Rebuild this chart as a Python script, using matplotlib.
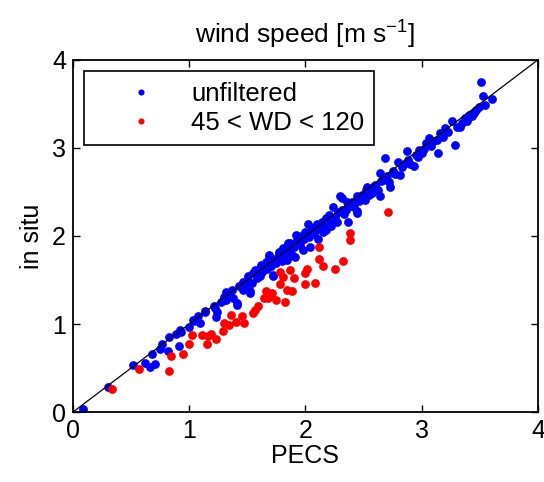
import matplotlib
matplotlib.use("Agg")
import matplotlib.pyplot as plt
import numpy as np

plt.rcParams['font.family'] = ['Liberation Sans', 'DejaVu Sans']
plt.rcParams['mathtext.default'] = 'regular'

# unfiltered points (PECS, in situ)
blue_pts = [
    (0.09, 0.03), (0.30, 0.29), (0.52, 0.54), (0.62, 0.56), (0.66, 0.51), (0.71, 0.55),
    (0.68, 0.66), (0.75, 0.72), (0.77, 0.77), (0.82, 0.69), (0.83, 0.85), (0.89, 0.89),
    (0.93, 0.91), (0.91, 0.75), (0.92, 0.93), (1.00, 0.97), (1.03, 1.05), (1.04, 1.04),
    (1.09, 1.01), (1.08, 1.09), (1.14, 1.14), (1.14, 1.15), (1.21, 1.20), (1.22, 1.18),
    (1.23, 1.08), (1.24, 1.14), (1.27, 1.25), (1.30, 1.31), (1.31, 1.28), (1.32, 1.27),
    (1.32, 1.36), (1.34, 1.33), (1.37, 1.39), (1.38, 1.30), (1.41, 1.24), (1.41, 1.22),
    (1.43, 1.43), (1.46, 1.39), (1.46, 1.48), (1.48, 1.42), (1.50, 1.50), (1.51, 1.54),
    (1.52, 1.38), (1.52, 1.35), (1.54, 1.47), (1.55, 1.58), (1.57, 1.61), (1.58, 1.52),
    (1.60, 1.62), (1.61, 1.54), (1.62, 1.67), (1.63, 1.59), (1.64, 1.65), (1.66, 1.70),
    (1.67, 1.62), (1.69, 1.77), (1.69, 1.78), (1.70, 1.66), (1.72, 1.56), (1.72, 1.55),
    (1.73, 1.74), (1.75, 1.69), (1.77, 1.82), (1.77, 1.80), (1.78, 1.75), (1.80, 1.71),
    (1.81, 1.86), (1.83, 1.79), (1.84, 1.73), (1.85, 1.92), (1.86, 1.84), (1.87, 1.92),
    (1.88, 1.78), (1.90, 1.88), (1.91, 1.76), (1.92, 2.01), (1.93, 1.95), (1.95, 1.90),
    (1.96, 2.00), (1.98, 1.84), (1.99, 1.97), (2.00, 2.05), (2.02, 2.14), (2.03, 1.99),
    (2.04, 1.88), (2.05, 2.06), (2.07, 2.02), (2.08, 2.10), (2.10, 2.14), (2.11, 1.97),
    (2.12, 2.08), (2.14, 2.16), (2.15, 2.05), (2.16, 2.12), (2.18, 2.20), (2.18, 2.07),
    (2.18, 2.18), (2.20, 2.24), (2.21, 2.15), (2.22, 2.11), (2.24, 2.33), (2.25, 2.22),
    (2.27, 2.16), (2.28, 2.27), (2.30, 2.45), (2.31, 2.43), (2.31, 2.30), (2.33, 2.25),
    (2.35, 2.30), (2.36, 2.38), (2.37, 2.16), (2.38, 2.34), (2.40, 2.39), (2.42, 2.33),
    (2.44, 2.28), (2.44, 2.26), (2.44, 2.45), (2.46, 2.40), (2.47, 2.41), (2.49, 2.47),
    (2.51, 2.41), (2.52, 2.52), (2.53, 2.56), (2.55, 2.46), (2.57, 2.49), (2.58, 2.56),
    (2.60, 2.58), (2.62, 2.52), (2.64, 2.45), (2.64, 2.71), (2.65, 2.62), (2.67, 2.64),
    (2.68, 2.89), (2.70, 2.68), (2.72, 2.61), (2.73, 2.56), (2.75, 2.74), (2.77, 2.70),
    (2.80, 2.84), (2.81, 2.69), (2.83, 2.78), (2.85, 2.82), (2.87, 2.96), (2.88, 2.86),
    (2.90, 2.82), (2.93, 2.79), (2.95, 2.92), (2.97, 2.90), (2.98, 2.98), (3.00, 2.94),
    (3.02, 2.99), (3.04, 3.06), (3.06, 3.11), (3.08, 3.02), (3.10, 3.08), (3.13, 3.09),
    (3.14, 2.94), (3.16, 3.17), (3.18, 3.12), (3.20, 3.22), (3.23, 3.18), (3.26, 3.30),
    (3.29, 3.03), (3.30, 3.24), (3.33, 3.24), (3.35, 3.28), (3.37, 3.34), (3.39, 3.30),
    (3.41, 3.37), (3.43, 3.36), (3.45, 3.40), (3.47, 3.43), (3.49, 3.46), (3.51, 3.75),
    (3.53, 3.59), (3.54, 3.49), (3.60, 3.55),
]

# 45 < WD < 120 points
red_pts = [
    (0.34, 0.26), (0.57, 0.49), (0.83, 0.47), (0.84, 0.64), (0.95, 0.66), (1.00, 0.77),
    (1.15, 0.77), (1.02, 0.87), (1.11, 0.88), (1.16, 0.86), (1.19, 0.89), (1.23, 0.83),
    (1.29, 0.92), (1.30, 1.01), (1.34, 0.99), (1.40, 1.02), (1.47, 1.01), (1.36, 1.10),
    (1.45, 1.09), (1.55, 1.12), (1.57, 1.16), (1.59, 1.20), (1.64, 1.30), (1.68, 1.29),
    (1.66, 1.37), (1.71, 1.35), (1.75, 1.27), (1.82, 1.25), (1.84, 1.39), (1.88, 1.37),
    (1.78, 1.45), (1.78, 1.59), (1.81, 1.53), (1.87, 1.61), (1.90, 1.52), (2.00, 1.45),
    (2.08, 1.47), (2.01, 1.62), (2.00, 1.58), (2.12, 1.87), (2.12, 1.74), (2.15, 1.66),
    (2.25, 1.62), (2.32, 1.72), (2.38, 2.03), (2.38, 1.95), (2.71, 2.27),
]

bx, by = np.array(blue_pts).T
rx, ry = np.array(red_pts).T

fig = plt.figure(figsize=(5.44, 4.82), dpi=100)
ax = fig.add_axes([0.134, 0.145, 0.855, 0.731])

ax.plot(bx, by, 'o', color='#0000ff', ms=6.3, mew=0, label='unfiltered')
ax.plot(rx, ry, 'o', color='#ff0000', ms=6.3, mew=0, label='45 < WD < 120')
ax.plot([0, 4], [0, 4], color='k', lw=0.9)

ax.set_xlim(0, 4)
ax.set_ylim(0, 4)
ax.set_xticks([0, 1, 2, 3, 4])
ax.set_yticks([0, 1, 2, 3, 4])
ax.tick_params(direction='in', top=True, right=True, length=5, width=1,
               labelsize=18, pad=5)
for s in ax.spines.values():
    s.set_linewidth(1.3)

ax.set_xlabel('PECS', fontsize=18, labelpad=1)
ax.set_ylabel('in situ', fontsize=18, labelpad=6)
ax.set_title(r'wind speed [m s$^{-1}$]', fontsize=19, pad=12)

leg = ax.legend(loc='upper left', fontsize=18.5, fancybox=False, edgecolor='k',
                markerscale=0.7, handlelength=3.6, handletextpad=0.15,
                borderaxespad=0.45, framealpha=1, labelspacing=0.2,
                borderpad=0.4)
leg.get_frame().set_linewidth(1.2)

fig.savefig('out.png', dpi=100)
